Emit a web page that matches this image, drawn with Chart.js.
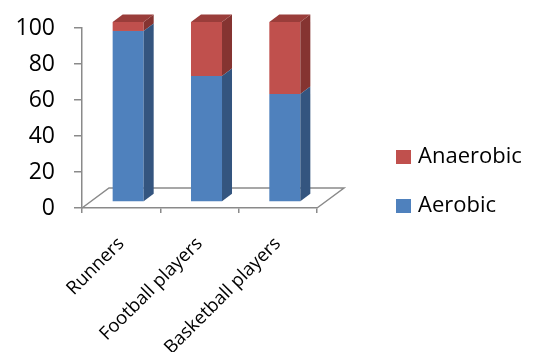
<!DOCTYPE html>
<html>
<head>
<meta charset="utf-8">
<script src="https://cdn.jsdelivr.net/npm/chart.js@4/dist/chart.umd.min.js"></script>
<style>
  html, body { margin: 0; padding: 0; background: #ffffff; }
  #wrap { width: 537px; height: 352px; }
</style>
</head>
<body>
<div id="wrap"><canvas id="c" width="537" height="352"></canvas></div>
<script>
// Share of energy supply by athlete type (%)
const categories = ['Runners', 'Football players', 'Basketball players'];
const aerobic    = [95, 70, 60];
const anaerobic  = [5, 30, 40];
const yTicks     = [0, 20, 40, 60, 80, 100];

const FONT = '"Open Sans", "Noto Sans", sans-serif';
const AXIS = '#8a8a8a';

// depth of the floor and of each column, and where the columns sit in depth
const FLOOR_DX = 27, FLOOR_DY = 20;
const BAR_DX = 10, BAR_DY = 7.5;
const SHIFT_X = 7, SHIFT_Y = 6;

const faces = [
  { front: '#4F81BD', side: '#34557F', top: '#3F679A' },
  { front: '#C0504D', side: '#853431', top: '#9A3D3A' }
];

const depth3d = {
  id: 'depth3d',
  beforeDatasetsDraw(chart) {
    const { ctx, chartArea: a } = chart;
    ctx.save();
    ctx.strokeStyle = AXIS;
    ctx.lineWidth = 1.5;
    ctx.beginPath();
    ctx.moveTo(a.left, a.bottom);
    ctx.lineTo(a.left + FLOOR_DX, a.bottom - FLOOR_DY);
    ctx.lineTo(a.right + FLOOR_DX, a.bottom - FLOOR_DY);
    ctx.lineTo(a.right, a.bottom);
    ctx.stroke();
    ctx.restore();
  },
  beforeDatasetDraw(chart) {
    chart.ctx.save();
    chart.ctx.translate(SHIFT_X, -SHIFT_Y);
  },
  afterDatasetDraw(chart, args) {
    const ctx = chart.ctx;
    const f = faces[args.index];
    const last = args.index === chart.data.datasets.length - 1;
    args.meta.data.forEach(el => {
      const p = el.getProps(['x', 'y', 'base', 'width'], true);
      const l = p.x - p.width / 2, r = p.x + p.width / 2;
      const t = Math.min(p.y, p.base), b = Math.max(p.y, p.base);
      ctx.fillStyle = f.side;
      ctx.beginPath();
      ctx.moveTo(r, t);
      ctx.lineTo(r + BAR_DX, t - BAR_DY);
      ctx.lineTo(r + BAR_DX, b - BAR_DY);
      ctx.lineTo(r, b);
      ctx.closePath();
      ctx.fill();
      if (last) {
        ctx.fillStyle = f.top;
        ctx.beginPath();
        ctx.moveTo(l, t);
        ctx.lineTo(l + BAR_DX, t - BAR_DY);
        ctx.lineTo(r + BAR_DX, t - BAR_DY);
        ctx.lineTo(r, t);
        ctx.closePath();
        ctx.fill();
      }
    });
    ctx.restore();
  },
  afterDraw(chart) {
    const ctx = chart.ctx;
    const items = chart.data.datasets.map((d, i) => ({ label: d.label, color: d.backgroundColor })).reverse();
    ctx.save();
    ctx.font = '22px ' + FONT;
    ctx.textBaseline = 'middle';
    ctx.fillStyle = '#000';
    items.forEach((it, i) => {
      const cy = 157 + i * 49;
      ctx.fillStyle = it.color;
      ctx.fillRect(396, cy - 7, 15, 14);
      ctx.fillStyle = '#000';
      ctx.fillText(it.label, 418, cy);
    });
    ctx.restore();
  }
};

new Chart(document.getElementById('c'), {
  type: 'bar',
  data: {
    labels: categories,
    datasets: [
      { label: 'Aerobic', data: aerobic, backgroundColor: faces[0].front,
        categoryPercentage: 1, barPercentage: 0.396 },
      { label: 'Anaerobic', data: anaerobic, backgroundColor: faces[1].front,
        categoryPercentage: 1, barPercentage: 0.396 }
    ]
  },
  options: {
    responsive: false,
    animation: false,
    layout: { padding: { left: 0, right: 220, top: 20, bottom: 0 } },
    plugins: { legend: { display: false }, tooltip: { enabled: false } },
    scales: {
      x: {
        stacked: true,
        afterFit(s) { s.height = 144; },
        border: { display: true, color: AXIS, width: 1.5 },
        grid: { offset: true, drawOnChartArea: false, drawTicks: true, tickLength: 5, color: AXIS, lineWidth: 1.5 },
        ticks: { minRotation: 45, maxRotation: 45, padding: 20, color: '#000', font: { family: FONT, size: 18.5 } }
      },
      y: {
        stacked: true,
        min: 0, max: 100,
        afterFit(s) { s.width = 82; },
        afterBuildTicks(s) { s.ticks = yTicks.map(v => ({ value: v })); },
        border: { display: true, color: AXIS, width: 1.5 },
        grid: { drawOnChartArea: false, drawTicks: true, tickLength: 8, color: AXIS, lineWidth: 1.5 },
        ticks: { padding: 19, color: '#000', font: { family: FONT, size: 23, lineHeight: 0.78 } }
      }
    }
  },
  plugins: [depth3d]
});
</script>
</body>
</html>
